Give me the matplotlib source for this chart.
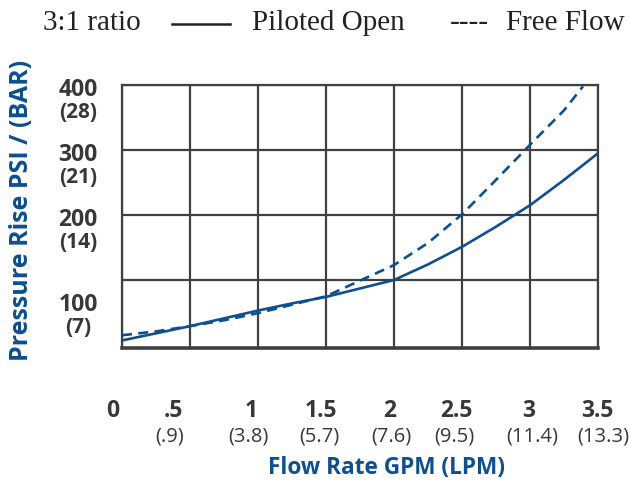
import matplotlib
matplotlib.use("Agg")
import matplotlib.pyplot as plt
from matplotlib.transforms import offset_copy

# Flow rate (GPM) and pressure rise (PSI)
gpm_piloted = [0, 0.25, 0.5, 0.75, 1.0, 1.25, 1.5, 1.75, 2.0, 2.25, 2.5, 2.75, 3.0, 3.25, 3.5]
psi_piloted = [7, 18, 29, 41, 53, 64, 74, 87, 100, 124, 151, 182, 215, 254, 295]

gpm_free = [0, 0.25, 0.5, 0.75, 1.0, 1.25, 1.5, 1.75, 2.0, 2.25, 2.5, 2.75, 3.0, 3.25, 3.39]
psi_free = [15, 21, 29, 38, 49, 62, 75, 99, 123, 157, 201, 254, 308, 361, 398]

gpm_ticks = [0, 0.5, 1, 1.5, 2, 2.5, 3, 3.5]
gpm_labels = ['0', '.5', '1', '1.5', '2', '2.5', '3', '3.5']
lpm_labels = ['', '(.9)', '(3.8)', '(5.7)', '(7.6)', '(9.5)', '(11.4)', '(13.3)']
gpm_nudge = [-9, -17, -7, -5, -4, -6, -1, -1]   # px shift of each label
lpm_nudge = [0, -20, -10, -7, -3, -8, 2, 5]

psi_ticks = [100, 200, 300, 400]
psi_labels = ['100', '200', '300', '400']
bar_labels = ['(7)', '(14)', '(21)', '(28)']
psi_label_at = [61, 192, 292, 392]

blue = '#0d4f8f'
grid_c = '#404040'
txt_c = '#383838'
sans = ['Open Sans', 'DejaVu Sans']

fig = plt.figure(figsize=(6.3, 4.84), dpi=100)
ax = fig.add_axes([122 / 630, 1 - 348 / 484, 476 / 630, 263 / 484])

ax.plot(gpm_piloted, psi_piloted, color=blue, lw=1.9, solid_capstyle='butt', zorder=3)
ax.plot(gpm_free, psi_free, color=blue, lw=1.9, dashes=(3.8, 2.4), zorder=3)

ax.set_xlim(0, 3.5)
ax.set_ylim(-4.6, 400)
ax.set_xticks(gpm_ticks)
ax.set_yticks(psi_ticks)
ax.tick_params(length=0, labelbottom=False, labelleft=False)
ax.grid(True, color=grid_c, lw=1.6)
for side, sp in ax.spines.items():
    sp.set_color(grid_c)
    sp.set_linewidth(1.6)
ax.spines['bottom'].set_linewidth(2.6)

# x tick labels: GPM (bold) over LPM
for x, g, l, dx, dl in zip(gpm_ticks, gpm_labels, lpm_labels, gpm_nudge, lpm_nudge):
    tr = offset_copy(ax.get_xaxis_transform(), fig=fig, x=dx * 0.72, y=0, units='points')
    ax.text(x, -0.238, g, transform=tr, ha='center', va='center', fontsize=16.5,
            fontweight='bold', color=txt_c, family=sans)
    tr2 = offset_copy(ax.get_xaxis_transform(), fig=fig, x=dl * 0.72, y=0, units='points')
    ax.text(x, -0.338, l, transform=tr2, ha='center', va='center', fontsize=14.5,
            color=txt_c, family=sans)

# y tick labels: PSI over (BAR)
for y, p, b in zip(psi_label_at, psi_labels, bar_labels):
    ax.text(-0.0924, y, p, transform=ax.get_yaxis_transform(), ha='center', va='center',
            fontsize=16.5, fontweight='bold', color=txt_c, family=sans)
    tr = offset_copy(ax.get_yaxis_transform(), fig=fig, x=0, y=-16.2, units='points')
    ax.text(-0.0924, y, b, transform=tr, ha='center', va='center',
            fontsize=15, fontweight='bold', color=txt_c, family=sans)

fig.text(386 / 630, 1 - 468 / 484, 'Flow Rate GPM (LPM)', ha='center', va='center',
         fontsize=16.3, fontweight='bold', color=blue, family=sans)
fig.text(22 / 630, 1 - 210 / 484, 'Pressure Rise PSI / (BAR)', ha='center', va='center',
         rotation=90, fontsize=18, fontweight='bold', color=blue, family=sans)

# header key
serif = ['Liberation Serif', 'DejaVu Serif']
hy = 1 - 23 / 484
fig.text(43 / 630, hy, '3:1 ratio', ha='left', va='center', fontsize=21,
         color='#222222', family=serif)
fig.add_artist(plt.Line2D([172 / 630, 230 / 630], [1 - 24 / 484, 1 - 24 / 484],
                          color='#222222', lw=1.8))
fig.text(252 / 630, hy, 'Piloted Open', ha='left', va='center', fontsize=21,
         color='#222222', family=serif)
fig.text(450 / 630, hy, '----', ha='left', va='center', fontsize=21,
         color='#222222', family=serif)
fig.text(625 / 630, hy, 'Free Flow', ha='right', va='center', fontsize=21,
         color='#222222', family=serif)

fig.savefig('out.png', dpi=100)
